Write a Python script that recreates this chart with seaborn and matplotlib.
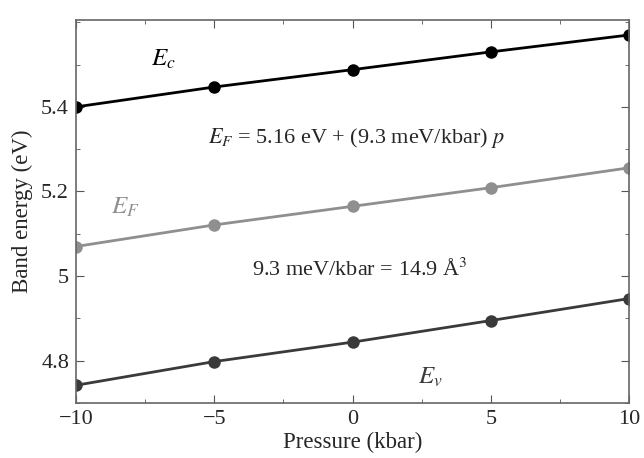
import numpy as np
import pandas as pd
import seaborn as sns
import matplotlib
matplotlib.use("Agg")
import matplotlib.pyplot as plt
from matplotlib.ticker import MultipleLocator

# --- data ---
pressure = [-10, -5, 0, 5, 10]
e_c = [5.400, 5.447, 5.488, 5.530, 5.570]
e_f = [5.070, 5.121, 5.165, 5.209, 5.256]
e_v = [4.742, 4.798, 4.844, 4.895, 4.947]
bands = ["Ec", "EF", "Ev"]
band_colors = {"Ec": "#000000", "EF": "#8f8f8f", "Ev": "#3a3a3a"}

df = pd.DataFrame({
    "Pressure": pressure * 3,
    "Energy": e_c + e_f + e_v,
    "Band": ["Ec"] * 5 + ["EF"] * 5 + ["Ev"] * 5,
})

sns.set_style("ticks")
plt.rcParams["font.family"] = ["Liberation Serif", "DejaVu Serif"]
plt.rcParams["mathtext.fontset"] = "stix"

fig = plt.figure(figsize=(6.44, 4.58), dpi=100)
ax = fig.add_axes([0.118, 0.120, 0.859, 0.836])

sns.lineplot(data=df, x="Pressure", y="Energy", hue="Band", hue_order=bands,
             palette=band_colors, marker="o", markersize=9, linewidth=2,
             markeredgewidth=0, legend=False, ax=ax)

ax.set_xlim(-10, 10)
ax.set_ylim(4.70, 5.605)
ax.xaxis.set_minor_locator(MultipleLocator(2.5))
ax.yaxis.set_minor_locator(MultipleLocator(0.1))
ax.set_yticks([4.8, 5.0, 5.2, 5.4])
ax.set_yticklabels(["4.8", "5", "5.2", "5.4"])
ax.set_xticks([-10, -5, 0, 5, 10])
ax.set_xticklabels(["\u221210", "\u22125", "0", "5", "10"])
ax.tick_params(which="both", direction="in", top=True, right=True,
               labelsize=16, color="#555555", pad=5)
ax.tick_params(which="major", length=6)
ax.tick_params(which="minor", length=3)
for s in ax.spines.values():
    s.set_color("#666666")
    s.set_linewidth(1.2)

ax.set_xlabel("Pressure (kbar)", fontsize=16.5, labelpad=2)
ax.set_ylabel("Band energy (eV)", fontsize=16.5, labelpad=6)

ax.text(-6.85, 5.512, r"$E_c$", fontsize=18, color=band_colors["Ec"],
        ha="center", va="center")
ax.text(-8.2, 5.163, r"$E_F$", fontsize=18, color=band_colors["EF"],
        ha="center", va="center")
ax.text(2.8, 4.760, r"$E_v$", fontsize=18, color=band_colors["Ev"],
        ha="center", va="center")
ax.text(0.15, 5.326, r"$E_F$ = 5.16 eV + (9.3 meV/kbar) $p$", fontsize=16,
        ha="center", va="center")
ax.text(0.25, 5.016, "9.3 meV/kbar = 14.9 \u00c5$^3$", fontsize=16,
        ha="center", va="center")

plt.savefig("out.png", dpi=100)
